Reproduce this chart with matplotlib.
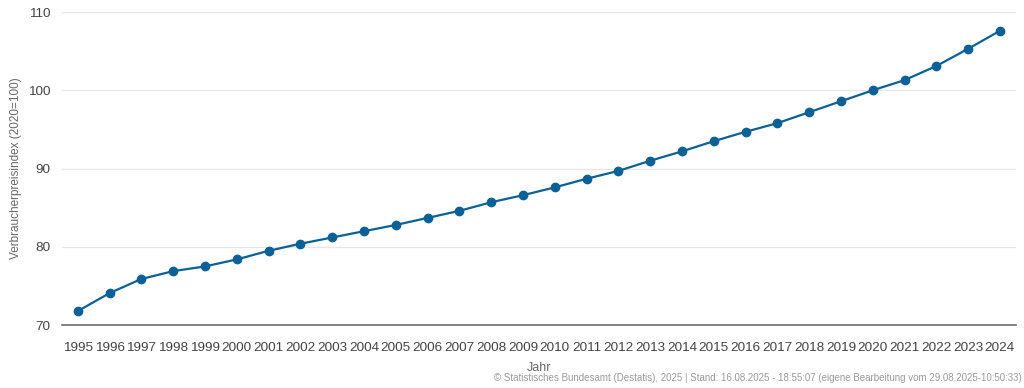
import matplotlib

matplotlib.use("Agg")
import matplotlib.pyplot as plt

plt.rcParams["font.family"] = ["Liberation Sans", "DejaVu Sans"]

years = [str(y) for y in range(1995, 2025)]
vpi = [71.8, 74.1, 75.9, 76.9, 77.5, 78.4, 79.5, 80.4, 81.2, 82.0,
       82.8, 83.7, 84.6, 85.7, 86.6, 87.6, 88.7, 89.7, 91.0, 92.2,
       93.5, 94.7, 95.8, 97.2, 98.6, 100.0, 101.3, 103.1, 105.3, 107.6]
y_ticks = [70, 80, 90, 100, 110]

fig = plt.figure(figsize=(10.24, 3.88), dpi=100)
ax = fig.add_axes([0.0605, 0.162, 0.9315, 0.807])

x = list(range(len(years)))
ax.plot(x, vpi, color="#0b6196", linewidth=1.6, marker="o",
        markersize=6, markerfacecolor="#0b6196", markeredgecolor="#0b6196",
        zorder=3)

ax.set_xlim(-0.5, len(years) - 0.5)
ax.set_ylim(70, 110)
ax.set_xticks(x)
ax.set_xticklabels(years)
ax.set_yticks(y_ticks)
ax.grid(axis="y", color="#e6e6e6", linewidth=0.9)
ax.set_axisbelow(True)

for side in ("top", "right", "left"):
    ax.spines[side].set_visible(False)
ax.spines["bottom"].set_color("#6b6b6b")
ax.spines["bottom"].set_linewidth(1.2)

ax.tick_params(axis="both", length=0, labelsize=9.7, labelcolor="#444444")
ax.tick_params(axis="x", pad=12)
ax.tick_params(axis="y", pad=8)

ax.set_ylabel("Verbraucherpreisindex (2020=100)", fontsize=8.5, color="#666666")
ax.yaxis.set_label_coords(-0.042, 0.5)
ax.set_xlabel("Jahr", fontsize=9, color="#666666", labelpad=6)

fig.text(0.998, 0.012,
         "© Statistisches Bundesamt (Destatis), 2025 | Stand: 16.08.2025 - 18:55:07 "
         "(eigene Bearbeitung vom 29.08.2025-10:50:33)",
         ha="right", va="bottom", fontsize=7, color="#999999")

fig.savefig("out.png", dpi=100)
